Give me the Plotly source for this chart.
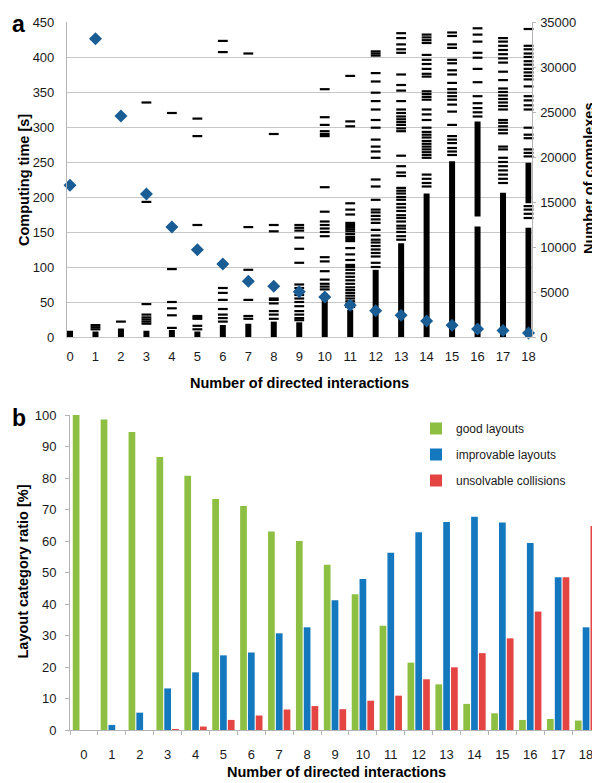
import plotly.graph_objects as go

# ---------------- data ----------------
interactions = list(range(19))
tick_labels = [str(i) for i in interactions]

# number of complexes per number of directed interactions (right axis, diamonds)
n_complexes = [16850, 33150, 24560, 15890, 12220, 9700, 8110, 6190, 5630, 5040,
               4445, 3520, 2925, 2410, 1780, 1300, 890, 710, 445]

# computing time [s]: densely populated ranges per category
time_dense = [
    [[0, 9]], [[0, 8]], [[0, 12]], [[0, 9]], [[0, 10]], [[0, 8]], [[0, 17]],
    [[0, 19]], [[0, 22]], [[0, 21]], [[0, 62]], [[0, 39]], [[0, 96]],
    [[0, 134]], [[0, 205]], [[0, 251]], [[0, 158], [172, 308]], [[0, 206]],
    [[0, 156], [191, 249]],
]

# computing time [s]: isolated single complexes per category
time_dashes = [
    [],
    [11, 14, 17],
    [22],
    [19, 22, 25, 28, 32, 47, 193, 335],
    [13, 31, 41, 50, 97, 320],
    [11, 16, 26, 28, 30, 160, 287, 312],
    [22, 27, 32, 40, 53, 63, 70, 407, 423],
    [26, 30, 53, 96, 157, 405],
    [26, 32, 37, 48, 53, 55, 151, 160, 290],
    [24, 27, 32, 37, 44, 50, 55, 60, 65, 70, 75, 106, 126, 142, 152, 156, 160],
    [68, 72, 76, 82, 94, 108, 114, 144, 150, 155, 160, 165, 179, 214,
     287, 290, 294, 303, 314, 354],
    [43, 47, 51, 55, 59, 63, 67, 71, 76, 81, 86, 91, 96, 100, 103, 110, 118,
     127, 137, 140, 143, 147, 151, 154, 157, 160, 163, 175, 182, 191, 301, 308, 373],
    [100, 106, 115, 120, 125, 130, 135, 139, 145, 153, 163, 168, 173, 178, 182,
     196, 215, 225, 256, 265, 272, 282, 299, 310, 325, 337, 349, 365, 377, 402, 405, 408],
    [139, 144, 150, 155, 159, 165, 170, 174, 180, 185, 190, 196, 200, 205, 209, 213,
     230, 235, 244, 259, 294, 298, 303, 307, 311, 315, 320, 325, 337, 352, 360, 375,
     406, 411, 418, 427, 434],
    [215, 220, 226, 232, 256, 260, 264, 268, 272, 276, 280, 285, 289, 293, 299,
     310, 318, 325, 339, 343, 347, 351, 372, 376, 383, 390, 396, 403, 420, 424, 428, 432],
    [260, 265, 270, 277, 282, 287, 303, 322, 332, 339, 344, 349, 354, 363, 375, 381,
     391, 396, 413, 418, 430, 435],
    [315, 321, 327, 334, 344, 364, 383, 399, 406, 422, 432, 441],
    [220, 226, 232, 238, 244, 250, 256, 268, 272, 291, 296, 301, 306, 310, 325, 330,
     335, 340, 345, 350, 355, 367, 379, 392, 398, 404, 410, 416, 422, 427],
    [170, 176, 182, 187, 258, 263, 268, 284, 289, 299, 325, 331, 338, 344, 358,
     368, 373, 378, 383, 389, 394, 400, 405, 411, 416, 440],
]

# layout category ratio [%]
good = [100, 98.6, 94.6, 86.7, 80.7, 73.3, 71.1, 63.0, 60.0, 52.5,
        43.1, 33.1, 21.4, 14.5, 8.3, 5.3, 3.2, 3.5, 3.0]
improvable = [0, 1.6, 5.5, 13.2, 18.3, 23.7, 24.6, 30.7, 32.6, 41.2,
              47.9, 56.3, 62.8, 66.0, 67.7, 65.9, 59.4, 48.5, 32.6]
unsolvable = [0, 0, 0, 0.3, 1.1, 3.2, 4.6, 6.5, 7.6, 6.6,
              9.3, 10.9, 16.1, 19.9, 24.4, 29.1, 37.6, 48.5, 64.8]

# ---------------- styling ----------------
FONT = "Liberation Sans, Arial, sans-serif"
GRID = "#c6c6c6"
AXIS = "#b4b4b4"
TXT = "#1a1a1a"
GREEN = "#8dc042"
BLUE = "#1478be"
RED = "#e44542"
DIAMOND = "#1a5c94"

OFF = 8            # page body margin offset
W, H = 600 - OFF, 783 - OFF
T = 22 - OFF       # plot top (screen 22)
B = H - (730 - OFF)  # plot bottom (screen 730)
PH = H - T - B


def px_x(p):
    return (p - OFF) / W


def px_y(p):
    return (H - B - (p - OFF)) / PH


fig = go.Figure()

# dense columns (top)
dx, dy = [], []
for i, ranges in enumerate(time_dense):
    for lo, hi in ranges:
        dx += [interactions[i], interactions[i], None]
        dy += [lo, hi, None]
fig.add_trace(go.Scatter(x=dx, y=dy, mode="lines", line=dict(color="black", width=6),
                         xaxis="x", yaxis="y", showlegend=False, hoverinfo="skip"))

# single dashes (top)
sx, sy = [], []
for i, vals in enumerate(time_dashes):
    sx += [interactions[i]] * len(vals)
    sy += vals
fig.add_trace(go.Scatter(x=sx, y=sy, mode="markers",
                         marker=dict(symbol="line-ew", size=7,
                                     line=dict(color="black", width=2.2)),
                         xaxis="x", yaxis="y", showlegend=False, cliponaxis=False))

# number of complexes (right axis)
fig.add_trace(go.Scatter(x=interactions, y=n_complexes, mode="markers",
                         marker=dict(symbol="diamond", size=10, color=DIAMOND),
                         xaxis="x", yaxis="y2", showlegend=False, cliponaxis=False))

# bottom bars
for name, vals, col in [("good layouts", good, GREEN),
                        ("improvable layouts", improvable, BLUE),
                        ("unsolvable collisions", unsolvable, RED)]:
    fig.add_trace(go.Bar(x=tick_labels, y=vals, name=name, marker=dict(color=col, line=dict(width=0)),
                         xaxis="x2", yaxis="y3", legendgroup=name))

x0 = 70 - 0.12 * 25.45
x1 = 528 + 0.12 * 25.45 + 0.5

fig.update_layout(
    width=W, height=H,
    margin=dict(l=0, r=0, t=T, b=B, autoexpand=False),
    paper_bgcolor="white", plot_bgcolor="white",
    font=dict(family=FONT, size=13, color=TXT),
    barmode="group", bargap=0.16, bargroupgap=0.14,
    xaxis=dict(domain=[px_x(x0), px_x(x1)], range=[-0.12, 18.12], anchor="y",
               tickmode="array", tickvals=interactions, ticktext=tick_labels,
               showgrid=False, zeroline=False, showline=True, linecolor=GRID, linewidth=1,
               ticks="", ticklabelstandoff=7, tickfont=dict(size=13)),
    yaxis=dict(domain=[px_y(337), 1], range=[0, 450], dtick=50, anchor="x",
               showgrid=True, gridcolor=GRID, gridwidth=1, zeroline=False,
               showline=True, linecolor=AXIS, ticks="", ticklabelstandoff=9,
               tickfont=dict(size=13)),
    yaxis2=dict(range=[0, 35000], dtick=5000, overlaying="y", side="right", anchor="x",
                tickformat="d",
                showgrid=False, zeroline=False, showline=True, linecolor=AXIS,
                ticks="outside", ticklen=3, tickcolor=AXIS, ticklabelstandoff=2,
                tickfont=dict(size=13)),
    xaxis2=dict(domain=[px_x(70), 1], anchor="y3", type="category",
                categoryorder="array", categoryarray=tick_labels,
                tickson="boundaries", ticks="outside", ticklen=4, tickcolor=AXIS,
                showline=True, linecolor=AXIS, showgrid=False, zeroline=False,
                ticklabelstandoff=12, tickfont=dict(size=13)),
    yaxis3=dict(domain=[0, px_y(415)], range=[0, 100], dtick=10, anchor="x2",
                showgrid=False, zeroline=False, showline=True, linecolor=AXIS,
                ticks="outside", ticklen=4, tickcolor=AXIS, ticklabelstandoff=6,
                tickfont=dict(size=13)),
    legend=dict(x=px_x(416), y=px_y(414), xanchor="left", yanchor="top",
                font=dict(size=12, color=TXT), tracegroupgap=7,
                bgcolor="rgba(0,0,0,0)", borderwidth=0),
    showlegend=True,
)

ann = [
    dict(text="<b>a</b>", x=px_x(18.5), y=px_y(24), font=dict(size=23, color="black")),
    dict(text="<b>b</b>", x=px_x(18.5), y=px_y(418), font=dict(size=23, color="black")),
    dict(text="<b>Computing time [s]</b>", x=px_x(24), y=px_y(180), textangle=-90,
         font=dict(size=14.5, color="black")),
    dict(text="<b>Number of complexes</b>", x=px_x(589), y=px_y(178), textangle=-90,
         font=dict(size=14.5, color="black")),
    dict(text="<b>Number of directed interactions</b>", x=px_x(299), y=px_y(383),
         font=dict(size=14.5, color="black")),
    dict(text="<b>Layout category ratio [%]</b>", x=px_x(22.5), y=px_y(572), textangle=-90,
         font=dict(size=14.5, color="black")),
    dict(text="<b>Number of directed interactions</b>", x=px_x(336), y=px_y(772),
         font=dict(size=14.5, color="black")),
]
for a in ann:
    a.update(xref="paper", yref="paper", xanchor="center", yanchor="middle", showarrow=False)
fig.update_layout(annotations=ann)

fig.write_html("out.html")
